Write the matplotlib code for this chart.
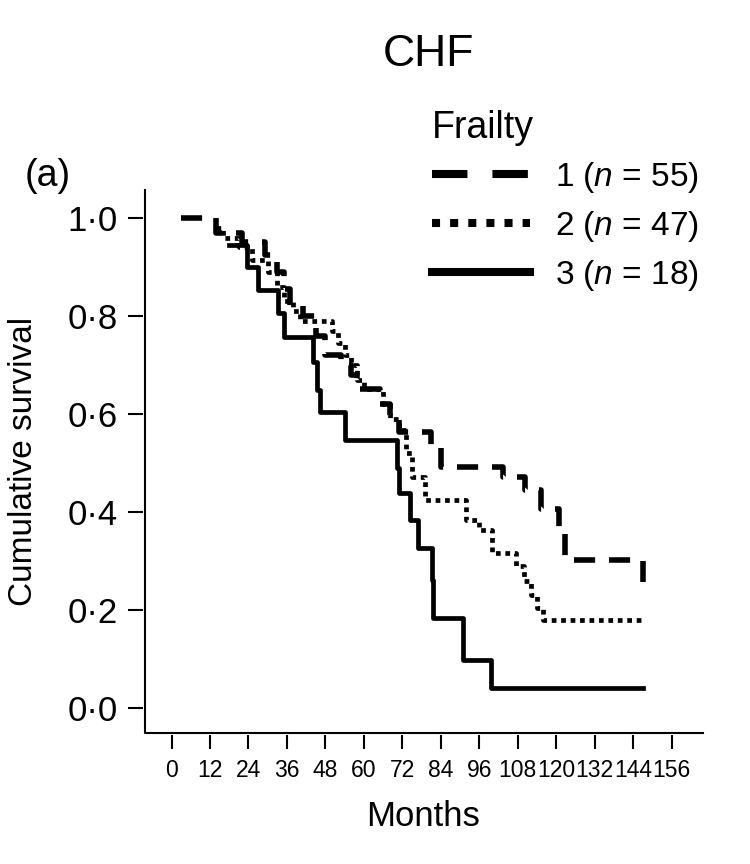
import numpy as np
import matplotlib.pyplot as plt
from matplotlib.lines import Line2D

plt.rcParams['font.family'] = 'Liberation Sans'
plt.rcParams['mathtext.fontset'] = 'custom'
plt.rcParams['mathtext.rm'] = 'Liberation Sans'
plt.rcParams['mathtext.it'] = 'Liberation Sans:italic'

# Kaplan-Meier curves (months, cumulative survival)
months_1 = [3, 14, 22, 29, 33, 35, 37, 41, 45, 48, 53, 56, 58, 65, 68, 71, 81, 84,
            103.4, 110.2, 115.4, 121, 122.7, 147]
surv_1 = [1.0, 0.97, 0.95, 0.925, 0.89, 0.855, 0.82, 0.80, 0.76, 0.72, 0.70, 0.68,
          0.65, 0.62, 0.59, 0.564, 0.53, 0.492, 0.472, 0.445, 0.407, 0.36, 0.302, 0.258]

months_2 = [14, 16, 21, 25, 30, 33, 35, 38, 40, 50, 52, 54, 56, 58, 60, 66, 68, 71,
            73, 75, 79, 92, 96, 100, 107.6, 110, 112, 114, 115.8, 147]
surv_2 = [0.98, 0.96, 0.94, 0.915, 0.89, 0.86, 0.83, 0.81, 0.79, 0.77, 0.745, 0.72,
          0.70, 0.67, 0.65, 0.62, 0.59, 0.567, 0.52, 0.472, 0.424, 0.384, 0.363,
          0.316, 0.29, 0.26, 0.23, 0.205, 0.18, 0.18]

months_3 = [18, 23.4, 27, 33.3, 35, 44.2, 45.3, 46.3, 54, 70.2, 71, 74.3, 76.9,
            81.1, 81.6, 91, 99.8, 147]
surv_3 = [0.944, 0.90, 0.853, 0.806, 0.758, 0.707, 0.649, 0.605, 0.547, 0.49,
          0.438, 0.384, 0.326, 0.261, 0.183, 0.098, 0.040, 0.040]

labels = ['1 ($n$ = 55)', '2 ($n$ = 47)', '3 ($n$ = 18)']
x_ticks = list(range(0, 157, 12))
y_ticks = [0.0, 0.2, 0.4, 0.6, 0.8, 1.0]
y_ticklabels = ['0\u00b70', '0\u00b72', '0\u00b74', '0\u00b76', '0\u00b78', '1\u00b70']

fig = plt.figure(figsize=(7.5, 8.64), dpi=100)
ax = fig.add_axes([0.1933, 0.1516, 0.744, 0.6285])

ax.step(months_1, surv_1, where='post', color='black', lw=4.0,
        dashes=(3.8, 2.5), dash_capstyle='butt')
ax.step(months_2, surv_2, where='post', color='black', lw=3.4,
        dashes=(1, 1), dash_capstyle='butt')
ax.step(months_3, surv_3, where='post', color='black', lw=3.4)

ax.set_xlim(-8.3, 165.8)
ax.set_ylim(-0.051, 1.057)
ax.set_xticks(x_ticks)
ax.set_xticklabels([str(t) for t in x_ticks])
ax.set_yticks(y_ticks)
ax.set_yticklabels(y_ticklabels)
ax.tick_params(axis='x', length=10, width=1.5, pad=7, labelsize=16.5)
ax.tick_params(axis='y', length=11, width=1.5, pad=7, labelsize=25)

# axis lines drawn apart so the tick marks sit slightly off them
for s in ax.spines.values():
    s.set_visible(False)
ax.spines['left'].set_position(('outward', 1.5))
ax.spines['bottom'].set_position(('outward', 1.5))
ax.plot([0, 0, 1], [1, 0, 0], transform=ax.transAxes, color='black', lw=1.5,
        clip_on=False, solid_capstyle='projecting')

ax.set_xlabel('Months', fontsize=25)
ax.xaxis.set_label_coords(0.498, -0.123)
ax.set_ylabel('Cumulative survival', fontsize=24)
ax.yaxis.set_label_coords(-0.19, 0.5)

fig.text(428 / 750, 1 - 55 / 864, 'CHF', fontsize=32, ha='center', va='center')
fig.text(25 / 750, 1 - 176 / 864, '(a)', fontsize=27, ha='left', va='center')

handles = [
    Line2D([], [], color='black', lw=5.8, dashes=(4.4, 3.1), dash_capstyle='butt'),
    Line2D([], [], color='black', lw=5.8, dashes=(1, 1.25), dash_capstyle='butt'),
    Line2D([], [], color='black', lw=5.8),
]
ax.legend(handles, labels, title='Frailty', title_fontsize=27, fontsize=24,
          frameon=False, loc='upper left', bbox_to_anchor=(432 / 750, 1 - 110 / 864),
          bbox_transform=fig.transFigure, handlelength=2.94, handletextpad=0.75,
          labelspacing=0.42, borderpad=0, borderaxespad=0, alignment='left')

fig.savefig('out.png', dpi=100)
